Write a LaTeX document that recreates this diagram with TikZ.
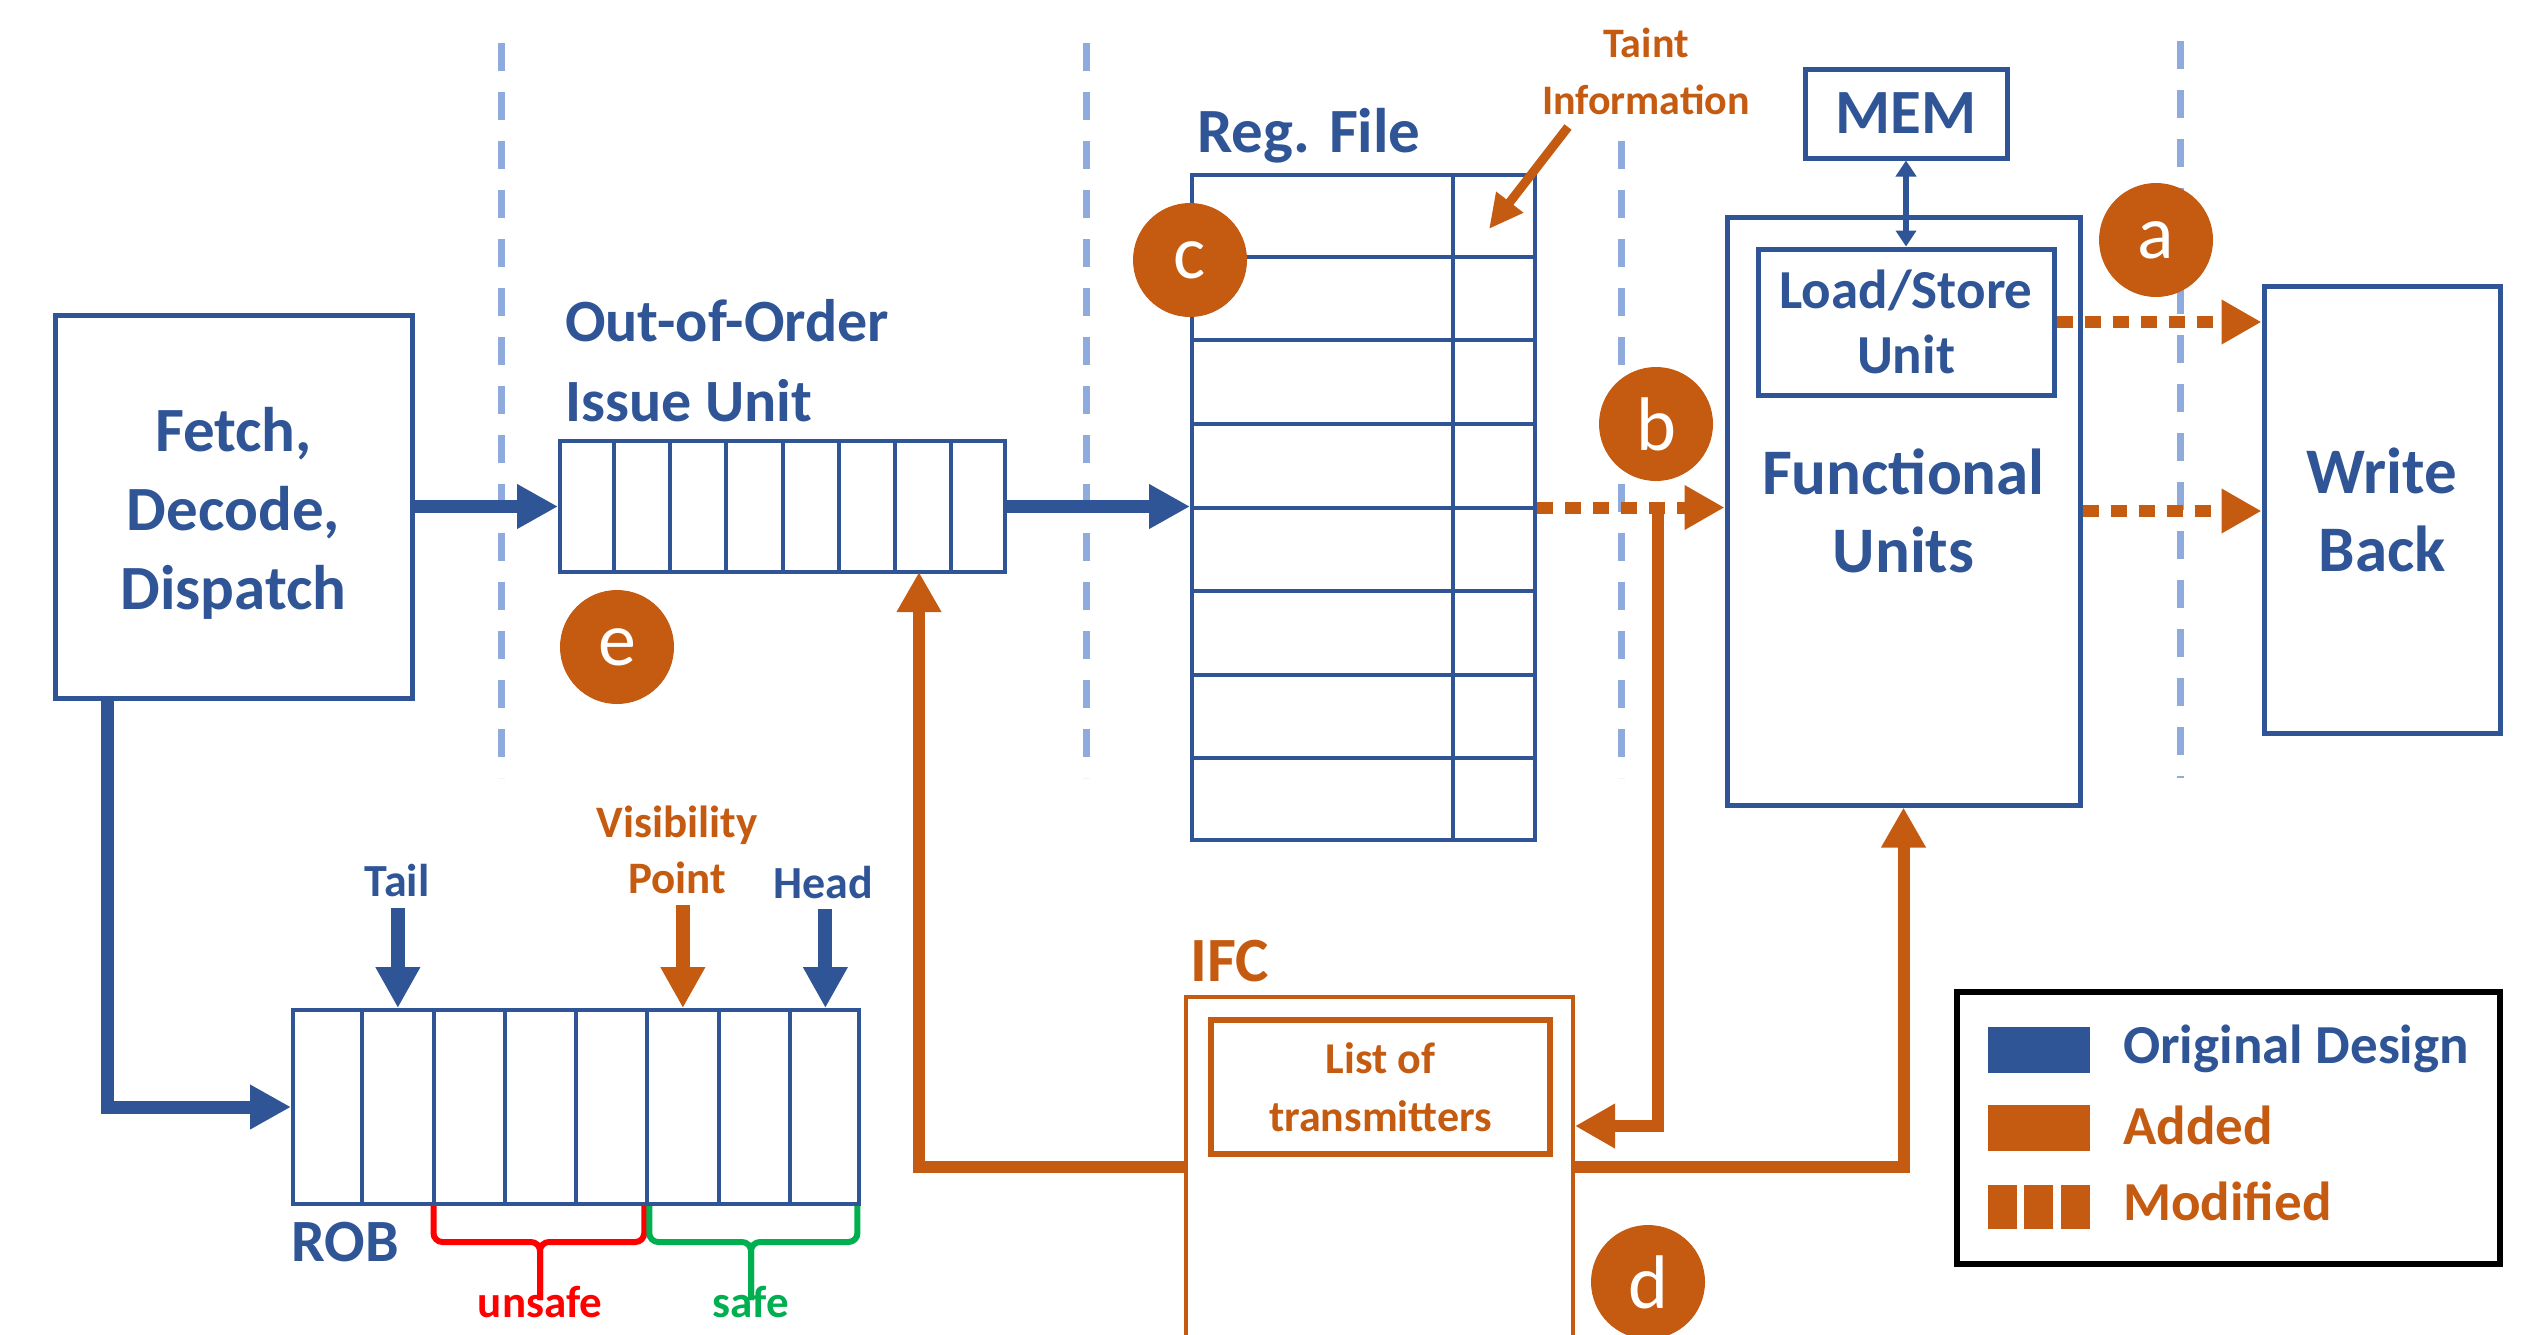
\documentclass[tikz,border=0pt]{standalone}
\usepackage{fontspec}
\setmainfont{Carlito}
\usetikzlibrary{arrows.meta,calc}
\definecolor{cblue}{HTML}{2F5597}
\definecolor{corange}{HTML}{C55A11}
\definecolor{csep}{HTML}{8FAADC}
\definecolor{cred}{HTML}{FF0000}
\definecolor{cgreen}{HTML}{00B050}
\newcommand\myfs[2]{\fontsize{#1}{#2}\selectfont}
\begin{document}
\begin{tikzpicture}[x=1pt,y=-1pt,
  box/.style={draw=cblue, line width=5pt, inner sep=0pt, text=cblue, align=center,
    font=\bfseries\myfs{63}{79}},
  obox/.style={draw=corange, inner sep=0pt, text=corange, align=center},
  cellline/.style={draw=cblue, line width=4pt},
  sepline/.style={draw=csep, line width=7pt, dash pattern=on 28pt off 21pt},
  flowblue/.style={draw=cblue, line width=13pt, -{Triangle[length=41pt,width=42pt]}},
  floworange/.style={draw=corange, line width=12pt, -{Triangle[length=40pt,width=42pt]}},
  flowmod/.style={floworange, dash pattern=on 16pt off 12pt},
  badge/.style={circle, fill=corange, minimum size=114pt, inner sep=0pt, text=white,
    font=\myfs{76}{80}},
  lblue/.style={text=cblue, inner sep=0pt, font=\bfseries\myfs{63}{79}},
  lorange/.style={text=corange, inner sep=0pt, font=\bfseries\myfs{63}{79}},
  brace/.style={line width=6pt, rounded corners=9pt},
  swatch/.style={inner sep=0pt, minimum height=46pt}
]
\useasboundingbox (0,0) rectangle (2539,1334);
\fill[white] (0,0) rectangle (2539,1334);
\clip (0,0) rectangle (2539,1334);

% pipeline stage separators
\draw[sepline] (501,43) -- (501,778);
\draw[sepline] (1086,43) -- (1086,778);
\draw[sepline] (1621,141) -- (1621,778);
\draw[sepline] (2180,41) -- (2180,778);

% main blocks
\node[box, minimum width=357pt, minimum height=383pt] (fetch) at (233.5,506.5) {};
\node[lblue, align=center] (fetchtxt) at (233.5,513) {Fetch,\\Decode,\\Dispatch};
\node[box, line width=4pt, minimum width=445pt, minimum height=131pt] (iq) at (782.5,506.5) {};
\foreach \i in {1,...,7}
  \draw[cellline] ($(iq.north west)!\i/8!(iq.north east)$) -- ($(iq.south west)!\i/8!(iq.south east)$);
\node[lblue, anchor=base west, font=\bfseries\myfs{60}{75}] (iqlabA) at (565,341) {Out-of-Order};
\node[lblue, anchor=base west, font=\bfseries\myfs{60}{75}] (iqlabB) at (565,421) {Issue Unit};

\node[box, line width=4pt, minimum width=343pt, minimum height=665pt] (rf) at (1363.5,507.5) {};
\draw[cellline] ($(rf.north west)!0.758!(rf.north east)$) -- ($(rf.south west)!0.758!(rf.south east)$);
\foreach \i in {1,...,7}
  \draw[cellline] ($(rf.north west)!\i/8!(rf.south west)$) -- ($(rf.north east)!\i/8!(rf.south east)$);
\node[lblue, anchor=base west] (rflab) at (1197,152) {Reg. File};

\node[box, minimum width=202pt, minimum height=89pt] (mem) at (1906,113.5) {MEM};
\node[box, minimum width=353pt, minimum height=588pt, font=\bfseries\myfs{65}{78}] (fu) at (1903.5,511) {Functional\\Units};
\node[box, minimum width=296pt, minimum height=146pt, font=\bfseries\myfs{55}{65}] (lsu) at (1906,322) {Load/Store\\Unit};
\node[box, minimum width=236pt, minimum height=447pt, font=\bfseries\myfs{65}{78}] (wb) at (2382,509.5) {Write\\Back};

% reorder buffer
\node[box, line width=4pt, minimum width=566pt, minimum height=194pt] (rob) at (576,1107) {};
\foreach \i in {1,...,7}
  \draw[cellline] ($(rob.north west)!\i/8!(rob.north east)$) -- ($(rob.south west)!\i/8!(rob.south east)$);
\node[lblue, anchor=base west, font=\bfseries\myfs{60}{75}] (roblab) at (291,1261) {ROB};

% information flow checker
\node[obox, line width=4pt, minimum width=387pt, minimum height=363pt] (ifc) at (1379.5,1178.5) {};
\node[obox, line width=6pt, minimum width=339pt, minimum height=134pt, font=\bfseries\myfs{44}{58}] (list) at (1380.5,1087) {List of\\transmitters};
\node[lorange, anchor=base west] (ifclab) at (1190,981) {IFC};

% taint annotation
\node[lorange, anchor=base, font=\bfseries\myfs{42}{57}] (taintA) at (1646,57) {Taint};
\node[lorange, anchor=base, font=\bfseries\myfs{42}{57}] (taintB) at (1646,114) {Information};
\coordinate (taintfrom) at (1568,127);
\coordinate (taintto) at (1489,229);
\draw[draw=corange, line width=9pt, -{Triangle[length=34pt,width=32pt]}] (taintfrom) -- (taintto);

% original data paths
\draw[flowblue] (fetch.east) -- (iq.west);
\draw[flowblue] (iq.east) -- (iq.east -| rf.west);
\coordinate (fetchdown) at (107,698);
\draw[flowblue] (fetchdown) |- (rob.west);
\draw[draw=cblue, line width=6pt, {Triangle[length=16pt,width=20pt]}-{Triangle[length=16pt,width=20pt]}] (mem.south) -- (lsu.north);

% modified paths
\draw[flowmod] (rf.east) -- (rf.east -| fu.west);
\draw[flowmod] (lsu.east) -- (lsu.east -| wb.west);
\draw[flowmod] (fu.east) -- (fu.east -| wb.west);

% added paths
\coordinate (tapb) at (1658,507.5);
\coordinate (listin) at (1575,1126);
\draw[floworange] (tapb) |- (listin);
\coordinate (ifcleft) at (1186,1167);
\coordinate (iqin) at (919,572);
\draw[floworange] (ifcleft) -| (iqin);
\coordinate (ifcright) at (1573,1167);
\draw[floworange] (ifcright) -| (fu.south);

% ROB pointers
\coordinate (tailtop) at ($(rob.north west)!1.5/8!(rob.north east) + (0,-100)$);
\coordinate (vistop) at ($(rob.north west)!5.5/8!(rob.north east) + (0,-103)$);
\coordinate (headtop) at ($(rob.north west)!7.5/8!(rob.north east) + (0,-99)$);
\draw[draw=cblue, line width=14pt, -{Triangle[length=41pt,width=42pt]}] (tailtop) -- (tailtop |- rob.north);
\draw[draw=corange, line width=14pt, -{Triangle[length=41pt,width=42pt]}] (vistop) -- (vistop |- rob.north);
\draw[draw=cblue, line width=14pt, -{Triangle[length=41pt,width=42pt]}] (headtop) -- (headtop |- rob.north);
\node[lblue, anchor=base, font=\bfseries\myfs{46}{56}] (taillab) at (397,896) {Tail};
\node[lorange, anchor=base, font=\bfseries\myfs{45}{56}] (vislabA) at (677,837) {Visibility};
\node[lorange, anchor=base, font=\bfseries\myfs{45}{56}] (vislabB) at (677,893) {Point};
\node[lblue, anchor=base, font=\bfseries\myfs{46}{56}] (headlab) at (823,898) {Head};

% unsafe / safe braces
\coordinate (bA) at ($(rob.south west)!2/8!(rob.south east)$);
\coordinate (bB) at ($(rob.south west)!5/8!(rob.south east)$);
\coordinate (bC) at ($(rob.south west)!7.95/8!(rob.south east)$);
\draw[brace, draw=cred] (bA) -- ++(0,36) -| (540,1300);
\draw[brace, draw=cred] (bB) ++(-3,0) -- ++(0,36) -| (540,1300);
\draw[brace, draw=cgreen] (bB) ++(2,0) -- ++(0,36) -| (751,1300);
\draw[brace, draw=cgreen] (bC) -- ++(0,36) -| (751,1300);
\node[inner sep=0pt, anchor=base, text=cred, font=\bfseries\myfs{45}{56}] (unsafelab) at (540,1317) {unsafe};
\node[inner sep=0pt, anchor=base, text=cgreen, font=\bfseries\myfs{45}{56}] (safelab) at (751,1317) {safe};

% numbered markers
\node[badge] (ba) at (2156,240) {a};
\node[badge] (bb) at (1656,424) {b};
\node[badge] (bc) at (1190,260) {c};
\node[badge] (bd) at (1648,1282) {d};
\node[badge] (be) at (617,647) {e};

% legend
\node[draw=black, line width=6pt, inner sep=0pt, minimum width=543pt, minimum height=272pt] (legend) at (2228.5,1128) {};
\node[swatch, fill=cblue, minimum width=102pt] (swblue) at (2039,1050) {};
\node[swatch, fill=corange, minimum width=102pt] (sworange) at (2039,1128) {};
\node[swatch, fill=corange, minimum width=29pt, minimum height=44pt] (swmodA) at (2002.5,1207) {};
\node[swatch, fill=corange, minimum width=29pt, minimum height=44pt] (swmodB) at (2038.5,1207) {};
\node[swatch, fill=corange, minimum width=29pt, minimum height=44pt] (swmodC) at (2075.5,1207) {};
\node[lblue, anchor=base west, font=\bfseries\myfs{55}{65}] (legA) at (2123,1063) {Original Design};
\node[lorange, anchor=base west, font=\bfseries\myfs{55}{65}] (legB) at (2123,1144) {Added};
\node[lorange, anchor=base west, font=\bfseries\myfs{55}{65}] (legC) at (2123,1220) {Modified};
\end{tikzpicture}
\end{document}
